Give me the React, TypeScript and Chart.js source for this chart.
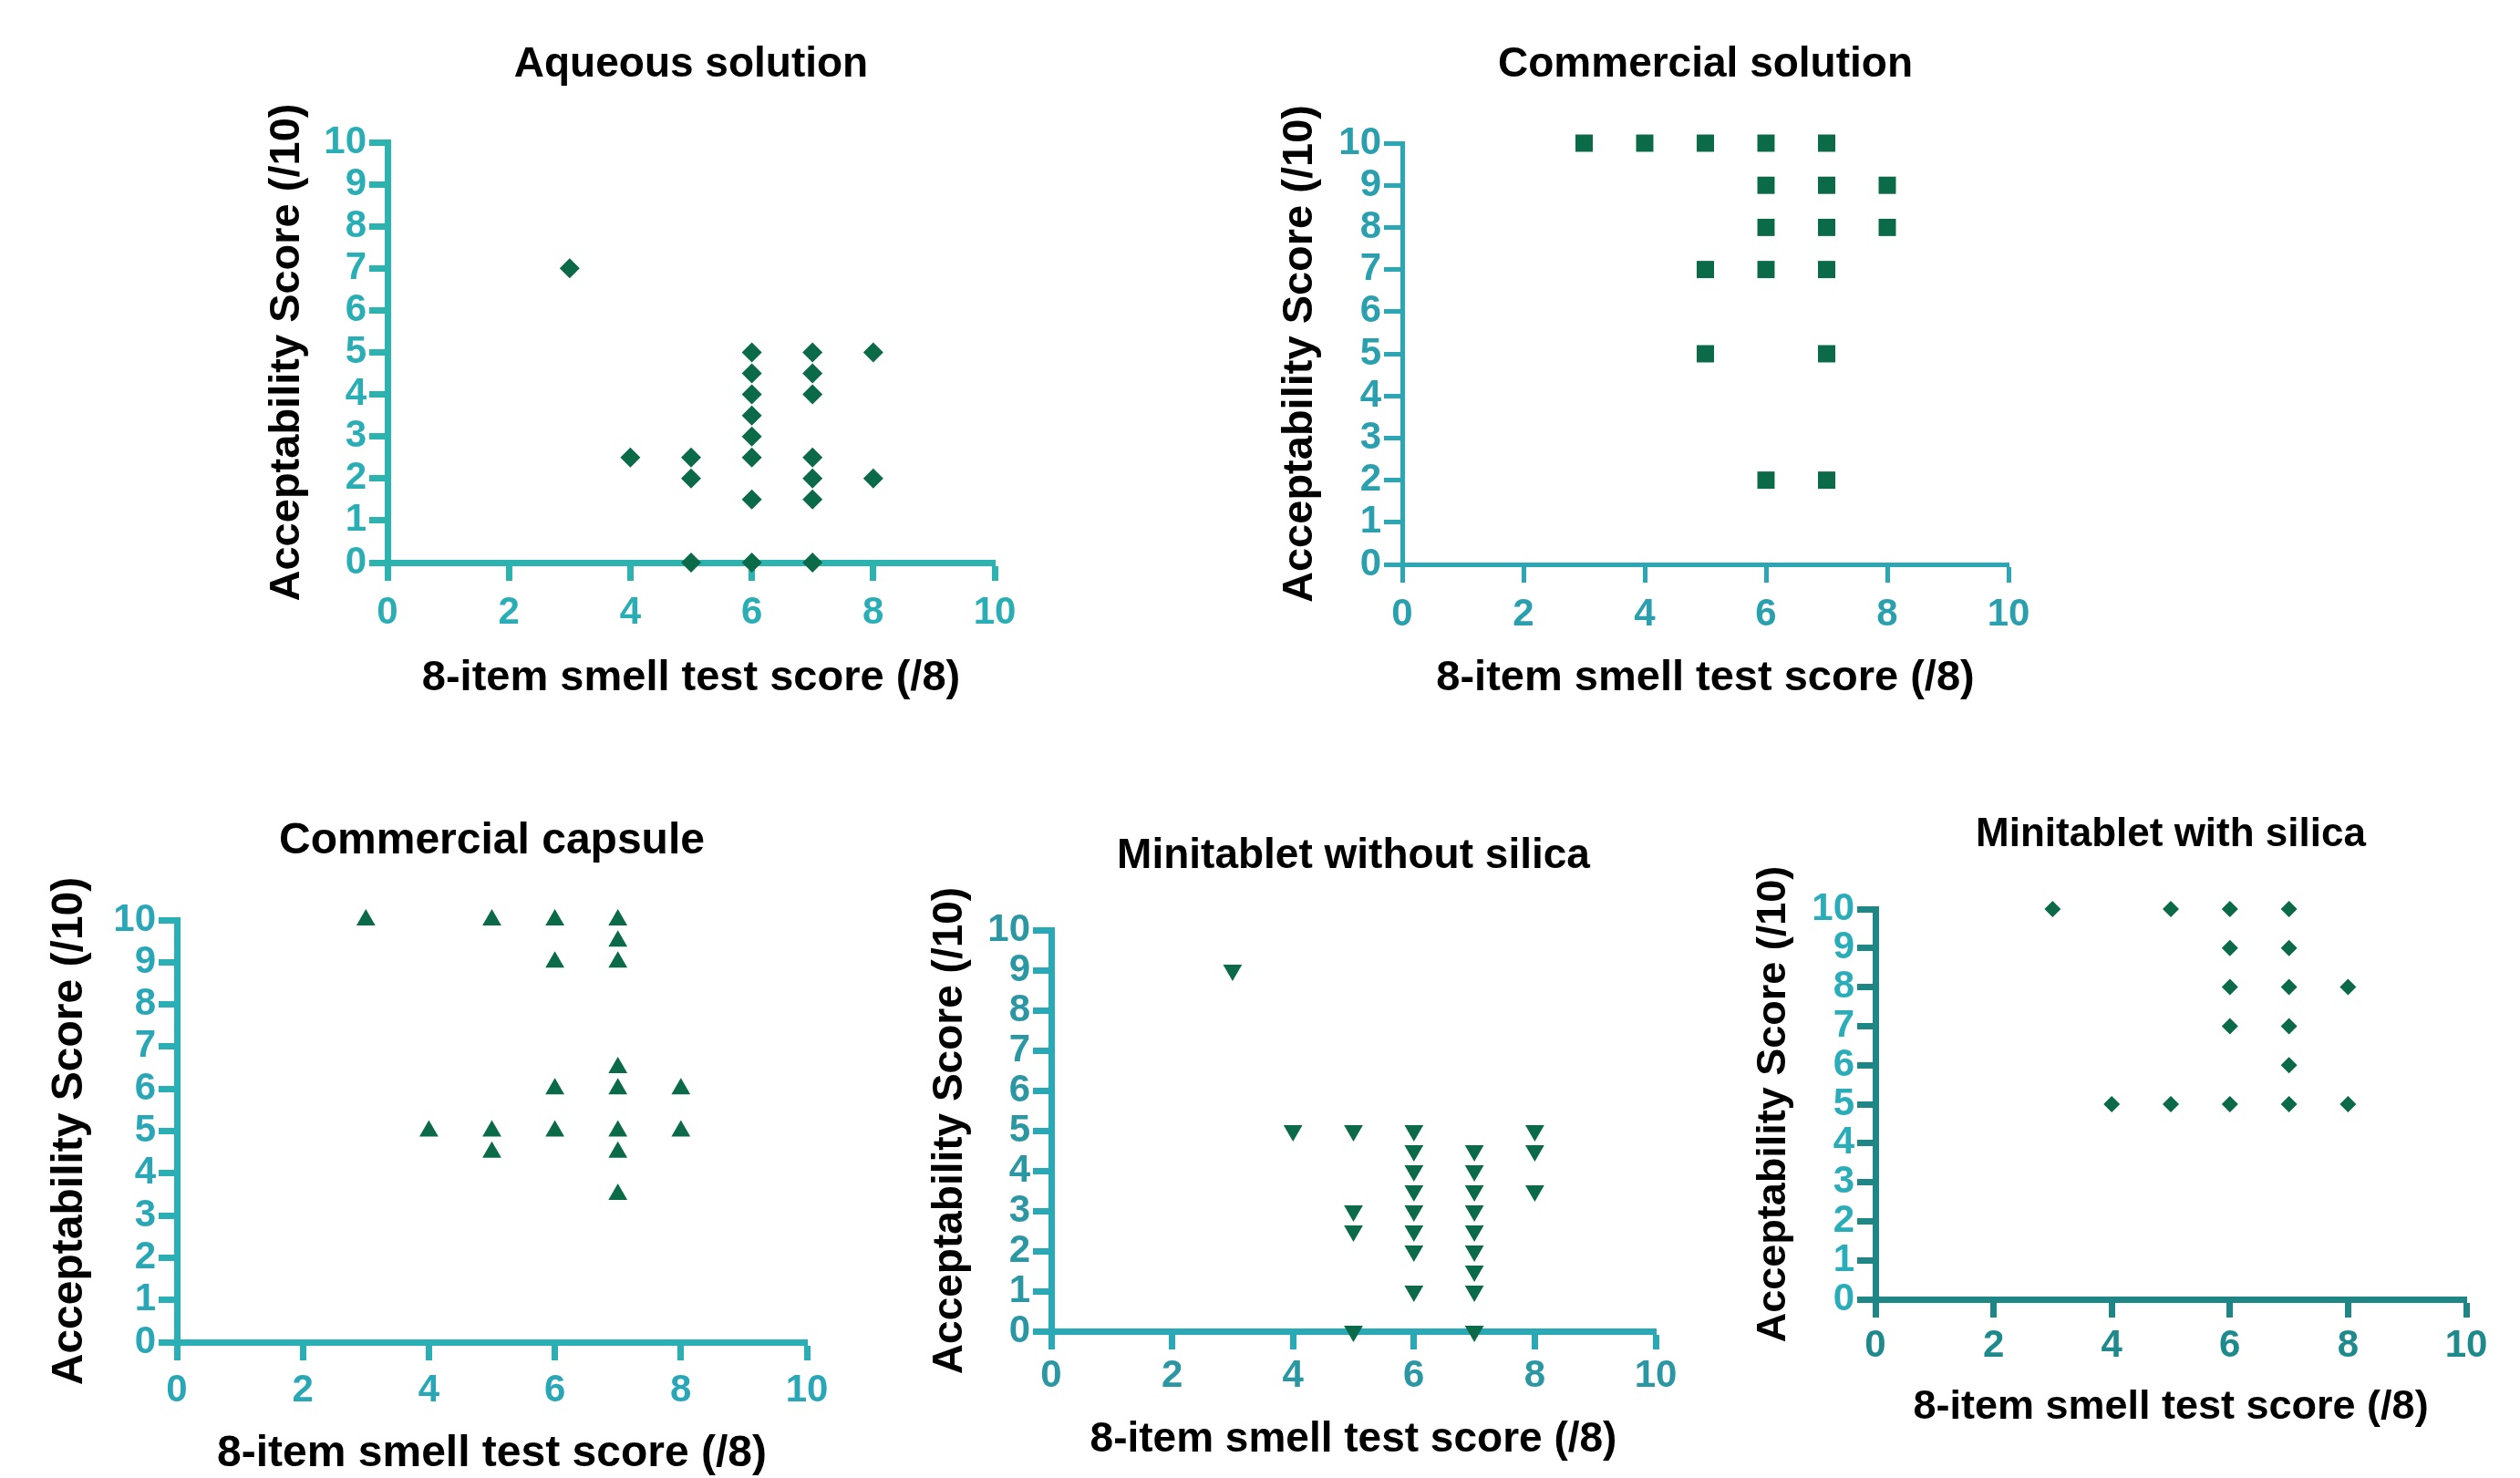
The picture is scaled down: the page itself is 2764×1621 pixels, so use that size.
import React, { useEffect, useRef } from "react";
import { Chart, registerables } from "chart.js";

Chart.register(...registerables);

const FONT = "'Liberation Sans', Arial, Helvetica, sans-serif";
const MARKER_COLOR = "#0b6a47";

const X_TITLE = "8-item smell test score (/8)";
const Y_TITLE = "Acceptability Score (/10)";

// Panel titles
const titles = [
  "Aqueous solution",
  "Commercial solution",
  "Commercial capsule",
  "Minitablet without silica",
  "Minitablet with silica",
];

// Aqueous solution
const aqueousX = [3, 4, 5, 5, 5, 6, 6, 6, 6, 6, 6, 6, 6, 7, 7, 7, 7, 7, 7, 7, 8, 8];
const aqueousY = [7, 2.5, 2.5, 2, 0, 5, 4.5, 4, 3.5, 3, 2.5, 1.5, 0, 5, 4.5, 4, 2.5, 2, 1.5, 0, 5, 2];

// Commercial solution
const comSolX = [3, 4, 5, 6, 7, 6, 7, 8, 6, 7, 8, 5, 6, 7, 5, 7, 6, 7];
const comSolY = [10, 10, 10, 10, 10, 9, 9, 9, 8, 8, 8, 7, 7, 7, 5, 5, 2, 2];

// Commercial capsule
const comCapX = [3, 5, 6, 7, 7, 6, 7, 7, 6, 7, 8, 4, 5, 6, 7, 8, 5, 7, 7];
const comCapY = [10, 10, 10, 10, 9.5, 9, 9, 6.5, 6, 6, 6, 5, 5, 5, 5, 5, 4.5, 4.5, 3.5];

// Minitablet without silica
const miniNoSilX = [3, 4, 5, 5, 5, 5, 6, 6, 6, 6, 6, 6, 6, 6, 7, 7, 7, 7, 7, 7, 7, 7, 7, 8, 8, 8];
const miniNoSilY = [9, 5, 5, 3, 2.5, 0, 5, 4.5, 4, 3.5, 3, 2.5, 2, 1, 4.5, 4, 3.5, 3, 2.5, 2, 1.5, 1, 0, 5, 4.5, 3.5];

// Minitablet with silica
const miniSilX = [3, 5, 6, 7, 6, 7, 6, 7, 8, 6, 7, 7, 4, 5, 6, 7, 8];
const miniSilY = [10, 10, 10, 10, 9, 9, 8, 8, 8, 7, 7, 6, 5, 5, 5, 5, 5];

// Axis ranges and tick steps
const X_MIN = 0, X_MAX = 10, X_STEP = 2;
const Y_MIN = 0, Y_MAX = 10, Y_STEP = 1;

type PanelCfg = {
  title: string;
  xs: number[];
  ys: number[];
  style: string;
  rotation: number;
  radius: number;
  left: number; top: number; width: number; height: number;
  yWidth: number; xHeight: number; titlePad: number; rightPad: number;
  titleSize: number; axisTitleSize: number; tickSize: number;
  axisColor: string; yLabelColor: string; xLabelColor: string;
  borderWidth: number; xTickPad: number;
};

const panels: PanelCfg[] = [
  {
    title: titles[0], xs: aqueousX, ys: aqueousY, style: "rectRot", rotation: 0, radius: 11,
    left: 292, top: 48, width: 839, height: 720, yWidth: 133, xHeight: 151, titlePad: 62, rightPad: 40,
    titleSize: 46, axisTitleSize: 47, tickSize: 42,
    axisColor: "#2cb3b0", yLabelColor: "#2aaeb6", xLabelColor: "#2aaeb6", borderWidth: 7, xTickPad: 10,
  },
  {
    title: titles[1], xs: comSolX, ys: comSolY, style: "rect", rotation: 0, radius: 13.4,
    left: 1403, top: 48, width: 840, height: 720, yWidth: 135, xHeight: 149, titlePad: 63, rightPad: 40,
    titleSize: 46, axisTitleSize: 47, tickSize: 42,
    axisColor: "#2aa6b5", yLabelColor: "#2a9fae", xLabelColor: "#2a9fae", borderWidth: 5, xTickPad: 10,
  },
  {
    title: titles[2], xs: comCapX, ys: comCapY, style: "triangle", rotation: 0, radius: 12,
    left: 53, top: 899, width: 872, height: 720, yWidth: 141, xHeight: 147, titlePad: 62, rightPad: 40,
    titleSize: 48, axisTitleSize: 48, tickSize: 42,
    axisColor: "#2ab0b4", yLabelColor: "#2aa7b7", xLabelColor: "#2aa7b7", borderWidth: 7, xTickPad: 8,
  },
  {
    title: titles[3], xs: miniNoSilX, ys: miniNoSilY, style: "triangle", rotation: 180, radius: 12,
    left: 1019, top: 916, width: 837, height: 686, yWidth: 134, xHeight: 142, titlePad: 58, rightPad: 40,
    titleSize: 46, axisTitleSize: 46, tickSize: 42,
    axisColor: "#29a9b6", yLabelColor: "#2b97a2", xLabelColor: "#2b97a2", borderWidth: 7, xTickPad: 4,
  },
  {
    title: titles[4], xs: miniSilX, ys: miniSilY, style: "rectRot", rotation: 0, radius: 9,
    left: 1923, top: 894, width: 822, height: 672, yWidth: 134, xHeight: 141, titlePad: 59, rightPad: 40,
    titleSize: 44, axisTitleSize: 45, tickSize: 42,
    axisColor: "#1f8686", yLabelColor: "#2aadb9", xLabelColor: "#1f8a8c", borderWidth: 7, xTickPad: 6,
  },
];

function Panel({ cfg }: { cfg: PanelCfg }) {
  const ref = useRef<HTMLCanvasElement | null>(null);
  useEffect(() => {
    if (!ref.current) return;
    const data = cfg.xs.map((x, i) => ({ x, y: cfg.ys[i] }));
    const chart = new Chart(ref.current, {
      type: "scatter",
      data: {
        datasets: [
          {
            data,
            pointStyle: cfg.style as any,
            pointRotation: cfg.rotation,
            pointRadius: cfg.radius,
            pointHoverRadius: cfg.radius,
            backgroundColor: MARKER_COLOR,
            borderColor: MARKER_COLOR,
            borderWidth: 0,
            clip: false as any,
          },
        ],
      },
      options: {
        animation: false,
        responsive: false,
        devicePixelRatio: 1,
        layout: { padding: { top: 0, left: 0, bottom: 0, right: cfg.rightPad } },
        plugins: {
          legend: { display: false },
          tooltip: { enabled: false },
          title: {
            display: true,
            text: cfg.title,
            color: "#000",
            fullSize: false,
            font: { family: FONT, size: cfg.titleSize, weight: "bold", lineHeight: 1 },
            padding: { top: 0, bottom: cfg.titlePad },
          },
        },
        scales: {
          x: {
            type: "linear",
            min: X_MIN,
            max: X_MAX,
            ticks: {
              stepSize: X_STEP,
              autoSkip: false,
              color: cfg.xLabelColor,
              padding: cfg.xTickPad,
              font: { family: FONT, size: cfg.tickSize, weight: "bold" },
            },
            grid: {
              display: true,
              drawOnChartArea: false,
              drawTicks: true,
              tickLength: 20,
              tickWidth: cfg.borderWidth,
              tickColor: cfg.axisColor,
              color: cfg.axisColor,
            },
            border: { display: true, color: cfg.axisColor, width: cfg.borderWidth },
            title: {
              display: true,
              text: X_TITLE,
              color: "#000",
              padding: 0,
              font: { family: FONT, size: cfg.axisTitleSize, weight: "bold", lineHeight: 1 },
            },
            afterFit: (s: any) => {
              s.height = cfg.xHeight;
            },
          },
          y: {
            type: "linear",
            min: Y_MIN,
            max: Y_MAX,
            ticks: {
              stepSize: Y_STEP,
              autoSkip: false,
              color: cfg.yLabelColor,
              padding: 3,
              font: { family: FONT, size: cfg.tickSize, weight: "bold", lineHeight: 1 },
            },
            grid: {
              display: true,
              drawOnChartArea: false,
              drawTicks: true,
              tickLength: 20,
              tickWidth: cfg.borderWidth,
              tickColor: cfg.axisColor,
              color: cfg.axisColor,
            },
            border: { display: true, color: cfg.axisColor, width: cfg.borderWidth },
            title: {
              display: true,
              text: Y_TITLE,
              color: "#000",
              padding: 0,
              font: { family: FONT, size: cfg.axisTitleSize, weight: "bold", lineHeight: 1 },
            },
            afterFit: (s: any) => {
              s.width = cfg.yWidth;
            },
          },
        },
      } as any,
    });
    return () => chart.destroy();
  }, [cfg]);
  return (
    <canvas
      ref={ref}
      width={cfg.width}
      height={cfg.height}
      style={{ position: "absolute", left: cfg.left, top: cfg.top, width: cfg.width, height: cfg.height }}
    />
  );
}

export default function App() {
  return (
    <div
      style={{
        position: "absolute",
        left: 0,
        top: 0,
        width: 2764,
        height: 1621,
        overflow: "hidden",
        background: "#ffffff",
      }}
    >
      {panels.map((p, i) => (
        <Panel key={i} cfg={p} />
      ))}
    </div>
  );
}
